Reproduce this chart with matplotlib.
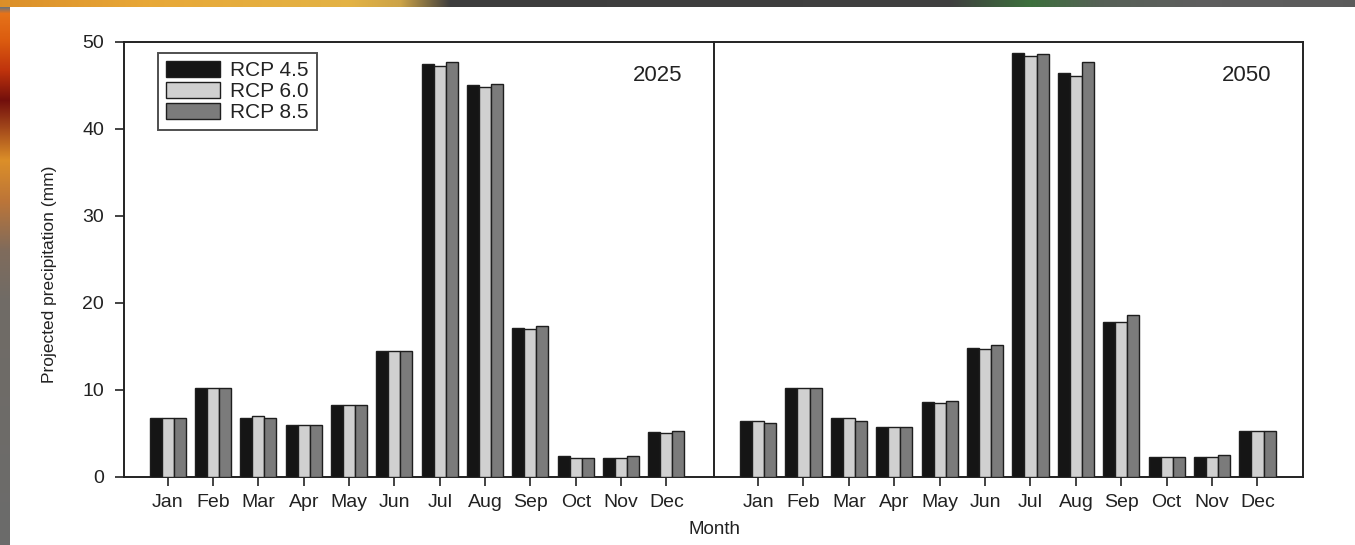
import numpy as np
import matplotlib
matplotlib.use("Agg")
import matplotlib.pyplot as plt

plt.rcParams['font.family'] = ['Liberation Sans', 'DejaVu Sans']

months = ['Jan', 'Feb', 'Mar', 'Apr', 'May', 'Jun',
          'Jul', 'Aug', 'Sep', 'Oct', 'Nov', 'Dec']
scenarios = ['RCP 4.5', 'RCP 6.0', 'RCP 8.5']
years = ['2025', '2050']

# Projected monthly precipitation (mm)
rcp45_2025 = [6.75, 10.2, 6.75, 6.0, 8.3, 14.5, 47.5, 45.0, 17.1, 2.35, 2.1, 5.1]
rcp60_2025 = [6.75, 10.2, 6.95, 6.0, 8.3, 14.5, 47.2, 44.8, 17.0, 2.1, 2.1, 5.05]
rcp85_2025 = [6.75, 10.2, 6.75, 6.0, 8.3, 14.5, 47.7, 45.2, 17.3, 2.1, 2.35, 5.25]

rcp45_2050 = [6.45, 10.2, 6.7, 5.75, 8.55, 14.75, 48.7, 46.4, 17.75, 2.3, 2.3, 5.3]
rcp60_2050 = [6.45, 10.2, 6.7, 5.75, 8.5, 14.65, 48.4, 46.1, 17.75, 2.3, 2.3, 5.3]
rcp85_2050 = [6.2, 10.2, 6.45, 5.75, 8.75, 15.2, 48.65, 47.7, 18.65, 2.3, 2.55, 5.3]

series = {
    '2025': [rcp45_2025, rcp60_2025, rcp85_2025],
    '2050': [rcp45_2050, rcp60_2050, rcp85_2050],
}

bar_colors = ['#151515', '#d0d0d0', '#7b7b7b']
edge = '#1e1e1e'
text_color = '#222222'

W, H = 1355, 545
fig = plt.figure(figsize=(W / 100, H / 100), dpi=100)

# Slide-style backdrop: white card with a coloured strip along the top and left
bg = np.ones((H, W, 3))
top_x = [0, 150, 350, 400, 450, 950, 1030, 1100, 1200, 1355]
top_c = [(0.86, 0.56, 0.16), (0.91, 0.66, 0.22), (0.89, 0.70, 0.27), (0.80, 0.64, 0.28),
         (0.24, 0.24, 0.24), (0.25, 0.25, 0.25), (0.24, 0.44, 0.24), (0.34, 0.38, 0.34),
         (0.37, 0.37, 0.37), (0.36, 0.36, 0.36)]
xs = np.arange(W)
top_rgb = np.stack([np.interp(xs, top_x, [c[k] for c in top_c]) for k in range(3)], axis=1)
bg[0:7, :, :] = top_rgb[None, :, :]
left_y = [0, 7, 13, 40, 70, 100, 125, 160, 200, 250, 300, 545]
left_c = [(0.90, 0.60, 0.20), (0.45, 0.45, 0.45), (0.90, 0.45, 0.10), (0.86, 0.36, 0.06),
          (0.75, 0.20, 0.05), (0.45, 0.06, 0.05), (0.62, 0.26, 0.10), (0.86, 0.56, 0.16),
          (0.74, 0.46, 0.22), (0.50, 0.42, 0.36), (0.44, 0.42, 0.40), (0.42, 0.42, 0.42)]
ys = np.arange(H)
left_rgb = np.stack([np.interp(ys, left_y, [c[k] for c in left_c]) for k in range(3)], axis=1)
bg[7:, 0:10, :] = left_rgb[7:, None, :]
bg_ax = fig.add_axes([0, 0, 1, 1], zorder=-10)
bg_ax.imshow(bg, aspect='auto', interpolation='bilinear')
bg_ax.axis('off')

# Panel geometry
ax_left = 124.3 / W
ax_bottom = (H - 476.7) / H
ax_height = (476.7 - 42.0) / H
panel_w = 589.3 / W
axes = [fig.add_axes([ax_left, ax_bottom, panel_w, ax_height], zorder=2),
        fig.add_axes([ax_left + panel_w, ax_bottom, panel_w, ax_height], zorder=1)]
xlims = [(-0.96, 12.04), (-0.98, 12.0)]

bw = 0.265
x = np.arange(len(months))
for ax, year, xl in zip(axes, years, xlims):
    for j, (vals, col) in enumerate(zip(series[year], bar_colors)):
        ax.bar(x + (j - 1) * bw, vals, width=bw, color=col, edgecolor=edge,
               linewidth=1.0, label=scenarios[j], zorder=3)
    ax.set_xlim(*xl)
    ax.set_ylim(0, 50)
    ax.set_xticks(x)
    ax.set_xticklabels(months, fontsize=14, color=text_color)
    ax.tick_params(axis='x', direction='out', length=6.5, width=1.2, pad=6,
                   color=text_color)
    for s in ax.spines.values():
        s.set_linewidth(1.4)
        s.set_color(text_color)
    ax.text(0.905, 0.924, year, transform=ax.transAxes, ha='center', va='center',
            fontsize=16, color=text_color)

axes[0].set_yticks([0, 10, 20, 30, 40, 50])
axes[0].tick_params(axis='y', direction='out', length=6.5, width=1.2, pad=8,
                    labelsize=14, labelcolor=text_color, color=text_color)
axes[1].set_yticks([])
axes[1].spines['left'].set_visible(False)

leg = axes[0].legend(loc='upper left', bbox_to_anchor=(0.057, 0.975),
                     borderaxespad=0, fontsize=15, frameon=True, fancybox=False,
                     handlelength=2.6, handleheight=0.8, handletextpad=0.45,
                     labelspacing=0.08, borderpad=0.4)
leg.get_frame().set_edgecolor(text_color)
leg.get_frame().set_linewidth(1.4)
for t in leg.get_texts():
    t.set_color(text_color)

fig.text(715 / W, 1 - 530 / H, 'Month', ha='center', va='center',
         fontsize=13.5, color=text_color)
fig.text(50 / W, 1 - 274 / H, 'Projected precipitation (mm)', ha='center',
         va='center', rotation=90, fontsize=12.5, color=text_color)

fig.savefig('out.png', dpi=100)
